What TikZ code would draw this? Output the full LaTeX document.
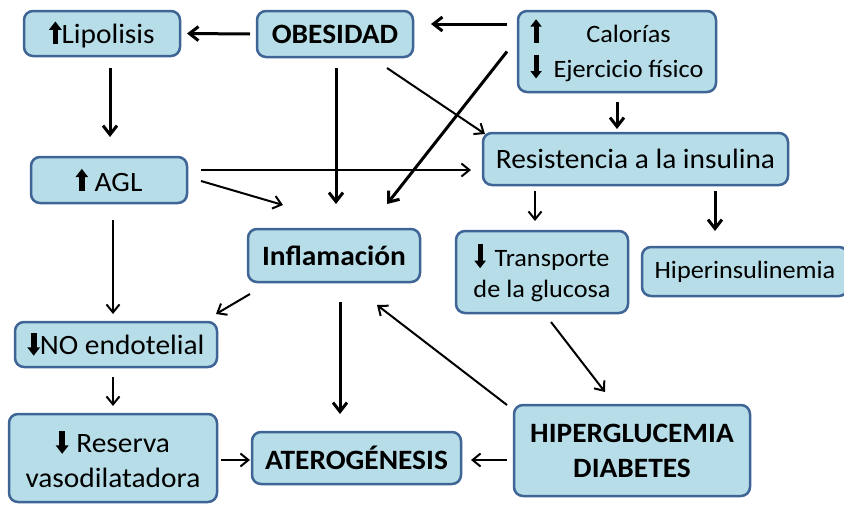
\documentclass[tikz,border=0pt]{standalone}
\usepackage{fontspec}
\setmainfont[FakeStretch=1.05]{Carlito}
\usetikzlibrary{arrows.meta,calc}
\definecolor{boxfill}{HTML}{B7DEE8}
\definecolor{boxline}{HTML}{3F6496}
% thick arrow glyphs in front of the labels
\newcommand{\flup}[1][0.8em]{\tikz[baseline=0pt]\draw[draw=black,line width=0.2em,
  -{Triangle[length=0.3em,width=0.44em]}] (0pt,0pt) -- (0pt,#1);}
\newcommand{\fldown}[1][0.8em]{\tikz[baseline=0.06em]\draw[draw=black,line width=0.2em,
  -{Triangle[length=0.3em,width=0.44em]}] (0pt,#1) -- (0pt,0pt);}

\begin{document}
\begin{tikzpicture}[
  x=1pt,y=-1pt,
  box/.style={draw=boxline,fill=boxfill,line width=2.5pt,rounded corners=9pt,
              align=center,inner sep=2pt,outer sep=0pt,
              font=\fontsize{28}{35}\selectfont},
  small/.style={font=\fontsize{25}{31}\selectfont},
  arr/.style={-{Straight Barb[length=8pt,width=13pt]},line width=2pt},
  barr/.style={-{Straight Barb[length=9pt,width=14pt]},line width=3pt}
]
\useasboundingbox (0,0) rectangle (844,504);

\node[box,minimum width=156pt,minimum height=45pt] (lip) at (102,33.5)
  {\flup Lipolisis};
\node[box,minimum width=156pt,minimum height=46pt] (obes) at (335,34)
  {\bfseries OBESIDAD};
\node[box,small,minimum width=198pt,minimum height=81pt] (cal) at (617,51.5)
  {\begin{tabular}{@{}c@{\hspace{12pt}}c@{}}
   \flup[0.95em] & Calorías\\
   \fldown[0.95em] & Ejercicio físico
   \end{tabular}};
\node[box,minimum width=305pt,minimum height=52pt] (res) at (635.5,159)
  {Resistencia a la insulina};
\node[box,minimum width=156pt,minimum height=46pt] (agl) at (109,180)
  {\flup\ AGL};
\node[box,minimum width=172pt,minimum height=53pt] (infl) at (334,255.5)
  {\bfseries Inflamación};
\node[box,small,minimum width=172pt,minimum height=82pt] (trans) at (542,272)
  {\fldown[0.95em]\hspace{9pt}Transporte\\de la glucosa};
\node[box,small,minimum width=206pt,minimum height=49pt] (hiper) at (745,271.5)
  {Hiperinsulinemia};
\node[box,minimum width=202pt,minimum height=45pt] (no) at (116,344.5)
  {\fldown NO endotelial};
\node[box,minimum width=208pt,minimum height=88pt] (resv) at (113,458)
  {\fldown\hspace{8pt}Reserva\\vasodilatadora};
\node[box,minimum width=209pt,minimum height=52pt] (ater) at (356.5,458)
  {\bfseries ATEROGÉNESIS};
\node[box,minimum width=236pt,minimum height=91pt] (hg) at (632,450.5)
  {\bfseries HIPERGLUCEMIA\\\bfseries DIABETES};

% connectors
\draw[barr] ($(obes.west)+(-7,0)$) -- ($(lip.east)+(7,0)$);
\draw[barr] ($(cal.west)+(-11,-27.5)$) -- ($(obes.east)+(18,-10)$);
\draw[barr] ($(lip.south)+(8,12)$) -- ($(agl.north)+(1,-20)$);
\draw[barr] ($(obes.south)+(1,11)$) -- ($(infl.north)+(2,-25)$);
\draw[arr] ($(obes.south)+(52,11)$) -- ($(res.north west)+(2,1)$);
\draw[barr] ($(cal.west)+(-11,0)$) -- ($(infl.north)+(53,-25)$);
\draw[arr] ($(agl.east)+(14,-10)$) -- ($(res.west)+(-12,11)$);
\draw[arr] ($(agl.east)+(14,1)$) -- ($(infl.north)+(-51,-24)$);
\draw[barr] ($(cal.south)+(0,10)$) -- ($(res.north)+(-18.5,-4)$);
\draw[arr] ($(res.south)+(-100.5,6)$) -- ($(trans.north)+(-7,-10)$);
\draw[barr] ($(res.south)+(79.5,6)$) -- ($(hiper.north)+(-30,-16)$);
\draw[arr] ($(agl.south)+(4,17)$) -- ($(no.north)+(-3,-8)$);
\draw[arr] ($(infl.south west)+(2,12)$) -- ($(no.north east)+(-1,-8)$);
\draw[barr] ($(infl.south)+(6,20)$) -- ($(ater.north)+(-16.5,-18)$);
\draw[arr] ($(no.south)+(-3,10)$) -- ($(resv.north)+(0,-8)$);
\draw[arr] ($(resv.east)+(4,2)$) -- ($(ater.west)+(-2,2)$);
\draw[arr] ($(hg.west)+(-7,9.5)$) -- ($(ater.east)+(10,2)$);
\draw[arr] ($(hg.north west)+(-7,0)$) -- ($(infl.south)+(43,23)$);
\draw[arr] ($(trans.south)+(9,9)$) -- ($(hg.north)+(-27,-13)$);

\end{tikzpicture}
\end{document}
